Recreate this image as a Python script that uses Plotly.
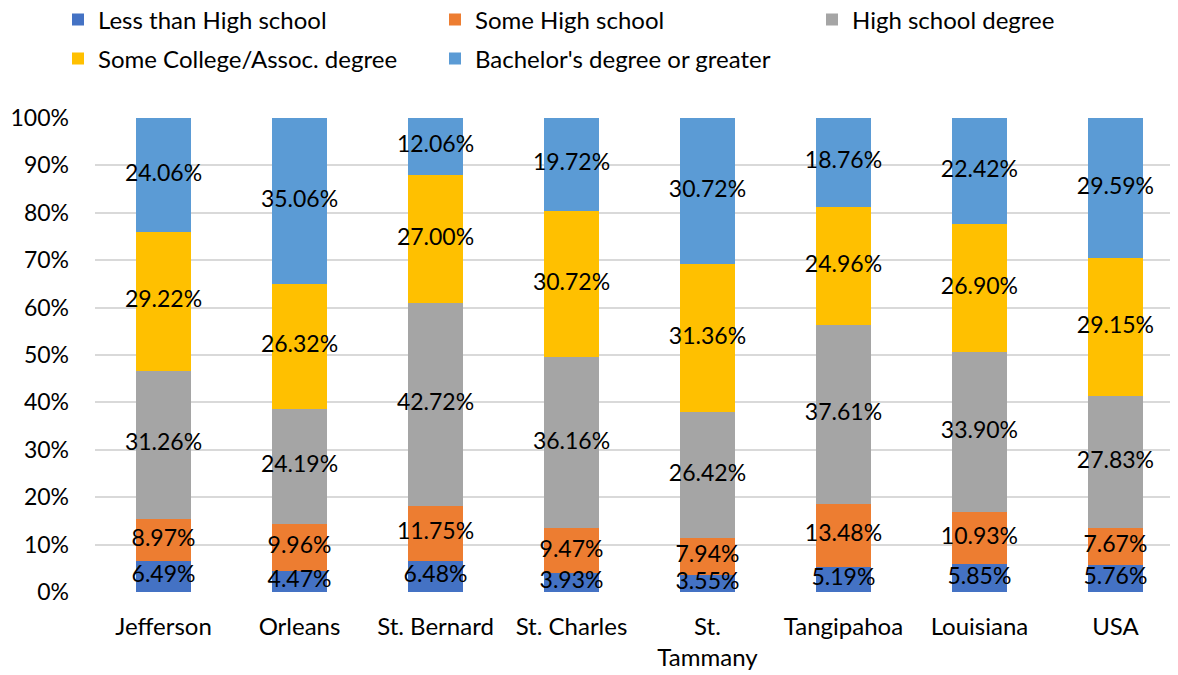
import plotly.graph_objects as go

FONT = "Lato, Carlito, Calibri, sans-serif"
TEXT = "#000000"
GRID = "#D9D9D9"
W, H = 1170, 667  # page adds an 8px body margin on the top/left

categories = ["Jefferson", "Orleans", "St. Bernard", "St. Charles", "St.<br>Tammany",
              "Tangipahoa", "Louisiana", "USA"]

less_than_hs = [6.49, 4.47, 6.48, 3.93, 3.55, 5.19, 5.85, 5.76]
some_hs = [8.97, 9.96, 11.75, 9.47, 7.94, 13.48, 10.93, 7.67]
hs_degree = [31.26, 24.19, 42.72, 36.16, 26.42, 37.61, 33.90, 27.83]
some_college = [29.22, 26.32, 27.00, 30.72, 31.36, 24.96, 26.90, 29.15]
bachelors = [24.06, 35.06, 12.06, 19.72, 30.72, 18.76, 22.42, 29.59]

series_names = ["Less than High school", "Some High school", "High school degree",
                "Some College/Assoc. degree", "Bachelor's degree or greater"]
series_values = [less_than_hs, some_hs, hs_degree, some_college, bachelors]
colors = ["#4472C4", "#ED7D31", "#A5A5A5", "#FFC000", "#5B9BD5"]

# legend slot for each series: (left px, centre y px) in figure coords
legend_pos = [(50, 12), (427, 12), (804, 12), (50, 51), (427, 51)]

fig = go.Figure()
layout_legends = {}
for i, (name, vals, color) in enumerate(zip(series_names, series_values, colors)):
    key = "legend" if i == 0 else f"legend{i + 1}"
    fig.add_trace(
        go.Bar(
            x=categories,
            y=[v / 100 for v in vals],
            name=name,
            marker=dict(color=color, line=dict(width=0)),
            width=0.405,
            showlegend=True,
            legend=key,
        )
    )
    lx, ly = legend_pos[i]
    layout_legends[key] = dict(
        orientation="h",
        xref="container",
        yref="container",
        xanchor="left",
        yanchor="middle",
        x=lx / W,
        y=1 - ly / H,
        font=dict(size=24, color=TEXT, family=FONT),
        itemclick=False,
        bgcolor="rgba(0,0,0,0)",
    )

# data labels centred in each stacked segment
base = [0.0] * len(categories)
for vals in series_values:
    mids = [(b + v / 2) / 100 for b, v in zip(base, vals)]
    fig.add_trace(
        go.Scatter(
            x=categories,
            y=mids,
            mode="text",
            text=[f"{v:.2f}%" for v in vals],
            textposition="middle center",
            textfont=dict(size=23, color=TEXT, family=FONT),
            cliponaxis=False,
            showlegend=False,
            hoverinfo="skip",
        )
    )
    base = [b + v for b, v in zip(base, vals)]

fig.update_layout(
    width=W,
    height=H,
    barmode="stack",
    showlegend=True,
    paper_bgcolor="white",
    plot_bgcolor="white",
    font=dict(family=FONT, size=23, color=TEXT),
    margin=dict(l=87, r=0, t=110, b=83, autoexpand=False),
    **layout_legends,
)
fig.update_xaxes(
    range=[-0.504, 7.46],
    showgrid=False,
    showline=False,
    ticks="",
    ticklabelstandoff=18,
    automargin=False,
    tickfont=dict(size=24, color=TEXT, family=FONT),
)
fig.update_yaxes(
    range=[0, 1],
    tickvals=[i / 10 for i in range(11)],
    tickformat=".0%",
    showgrid=True,
    gridcolor=GRID,
    gridwidth=1.5,
    zeroline=False,
    showline=False,
    ticks="",
    ticklabelstandoff=25,
    automargin=False,
    tickfont=dict(size=23, color=TEXT, family=FONT),
)

fig.write_html("out.html")
